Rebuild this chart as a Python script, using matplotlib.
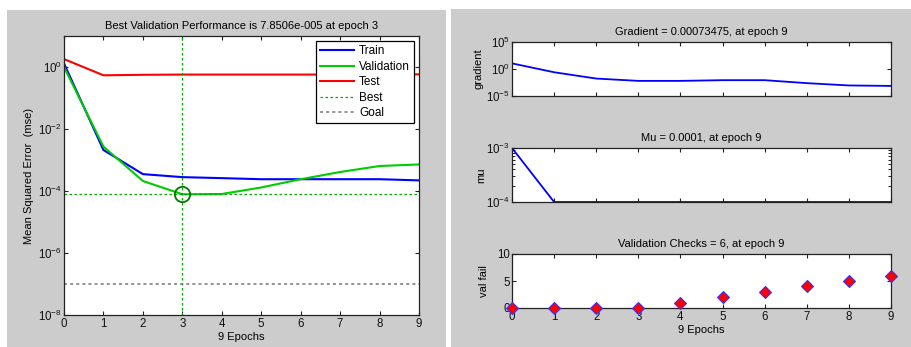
import numpy as np
import matplotlib
matplotlib.use("Agg")
from matplotlib import pyplot as plt
from matplotlib.patches import Rectangle
from matplotlib.ticker import LogLocator, FixedLocator, NullFormatter

plt.rcParams['font.family'] = ['Liberation Sans', 'DejaVu Sans']
plt.rcParams['mathtext.fontset'] = 'custom'
plt.rcParams['mathtext.rm'] = 'Liberation Sans'
plt.rcParams['mathtext.it'] = 'Liberation Sans'

# data
epochs = np.arange(10)
train = [1.3, 2.1e-3, 3.5e-4, 2.8e-4, 2.6e-4, 2.4e-4, 2.4e-4, 2.4e-4, 2.4e-4, 2.2e-4]
valid = [1.0, 2.7e-3, 2.1e-4, 7.8506e-5, 8.0e-5, 1.3e-4, 2.4e-4, 4.1e-4, 6.4e-4, 7.2e-4]
test = [1.8, 0.54, 0.56, 0.57, 0.57, 0.57, 0.57, 0.57, 0.58, 0.58]
best_epoch = 3
best_perf = 7.8506e-5
goal = 1e-7

gradient = [11, 0.25, 0.017, 0.0063, 0.0063, 0.0085, 0.0085, 0.0024, 0.0009, 0.00073475]
mu = [1e-3, 1e-4, 1e-4, 1e-4, 1e-4, 1e-4, 1e-4, 1e-4, 1e-4, 1e-4]
val_fail = [0, 0, 0, 0, 1, 2, 3, 4, 5, 6]

W, H = 912, 347
fs = 8
tfs = 8.3
fig = plt.figure(figsize=(W / 100, H / 100), dpi=100)
fig.patch.set_facecolor('white')


def px_axes(l, t, r, b):
    return fig.add_axes([l / W, (H - b) / H, (r - l) / W, (b - t) / H])


def style(ax):
    ax.tick_params(direction='in', top=True, right=True, labelsize=tfs,
                   length=3, width=0.8, pad=1.5, colors='#222222', labelcolor='#111111')
    ax.tick_params(axis='x', pad=2.5)
    for s in ax.spines.values():
        s.set_linewidth(0.9)
        s.set_color('#222222')


# gray panel backgrounds
fig.add_artist(Rectangle((7 / W, 0), 439 / W, 337 / H, transform=fig.transFigure,
                         facecolor='#cccccc', edgecolor='none', zorder=-10))
fig.add_artist(Rectangle((451 / W, 0), 461 / W, 338 / H, transform=fig.transFigure,
                         facecolor='#cccccc', edgecolor='none', zorder=-10))

# left: performance
ax = px_axes(64, 36, 419, 315)
ax.semilogy(epochs, train, color='#0000ff', lw=1.5, label='Train')
ax.semilogy(epochs, valid, color='#00cc00', lw=1.5, label='Validation')
ax.semilogy(epochs, test, color='#ff0000', lw=1.5, label='Test')
ax.axvline(best_epoch, color='#00aa00', ls=(0, (2, 2)), lw=0.9, label='Best')
ax.axhline(best_perf, color='#00aa00', ls=(0, (2, 2)), lw=0.9)
ax.axhline(goal, color='#777777', ls=(0, (2, 2)), lw=1.1, label='Goal')
ax.plot(best_epoch, best_perf, 'o', ms=11, mfc='none', mec='#007700', mew=1.3)
ax.set_xlim(0, 9)
ax.set_ylim(1e-8, 1e1)
ax.set_xticks(epochs)
ax.yaxis.set_major_locator(FixedLocator([1e-8, 1e-6, 1e-4, 1e-2, 1e0]))
ax.yaxis.set_minor_locator(FixedLocator([]))
ax.set_title('Best Validation Performance is 7.8506e-005 at epoch 3', fontsize=fs, pad=5)
ax.set_xlabel('9 Epochs', fontsize=fs, labelpad=1)
ax.set_ylabel('Mean Squared Error  (mse)', fontsize=fs, labelpad=3)
style(ax)
leg = ax.legend(loc='upper right', bbox_to_anchor=(0.986, 0.982), fontsize=fs + 0.5,
                fancybox=False, framealpha=1, edgecolor='black', handlelength=2.9,
                borderpad=0.35, labelspacing=0.3, handletextpad=0.4, borderaxespad=0)
leg.get_frame().set_linewidth(0.9)

# right: training state
ax1 = px_axes(512, 42, 891, 96)
ax1.semilogy(epochs, gradient, color='#0000ff', lw=1.3)
ax1.set_xlim(0, 9)
ax1.set_ylim(1e-5, 1e5)
ax1.set_xticks(epochs)
ax1.set_xticklabels([])
ax1.yaxis.set_major_locator(FixedLocator([1e-5, 1e0, 1e5]))
ax1.yaxis.set_minor_locator(FixedLocator([]))
ax1.set_title('Gradient = 0.00073475, at epoch 9', fontsize=fs, pad=5)
ax1.set_ylabel('gradient', fontsize=fs, labelpad=2)
style(ax1)

ax2 = px_axes(512, 148, 891, 202)
ax2.semilogy(epochs, mu, color='#0000ff', lw=1.3)
ax2.set_xlim(0, 9)
ax2.set_ylim(1e-4, 1e-3)
ax2.set_xticks(epochs)
ax2.set_xticklabels([])
ax2.yaxis.set_major_locator(FixedLocator([1e-4, 1e-3]))
ax2.yaxis.set_minor_locator(LogLocator(subs=np.arange(2, 10)))
ax2.yaxis.set_minor_formatter(NullFormatter())
ax2.set_title('Mu = 0.0001, at epoch 9', fontsize=fs, pad=5)
ax2.set_ylabel('mu', fontsize=fs, labelpad=0)
style(ax2)
ax2.tick_params(which='minor', direction='in', right=True, length=2, width=0.6)

ax3 = px_axes(512, 254, 891, 308)
ax3.plot(epochs, val_fail, 'D', ms=6, mfc='#ff0000', mec='#3333ff', mew=0.8,
         clip_on=False, zorder=5)
ax3.set_xlim(0, 9)
ax3.set_ylim(0, 10)
ax3.set_xticks(epochs)
ax3.set_yticks([0, 5, 10])
ax3.set_title('Validation Checks = 6, at epoch 9', fontsize=fs, pad=5)
ax3.set_xlabel('9 Epochs', fontsize=fs, labelpad=1)
ax3.set_ylabel('val fail', fontsize=fs, labelpad=6)
style(ax3)

fig.savefig('out.png', dpi=100)
